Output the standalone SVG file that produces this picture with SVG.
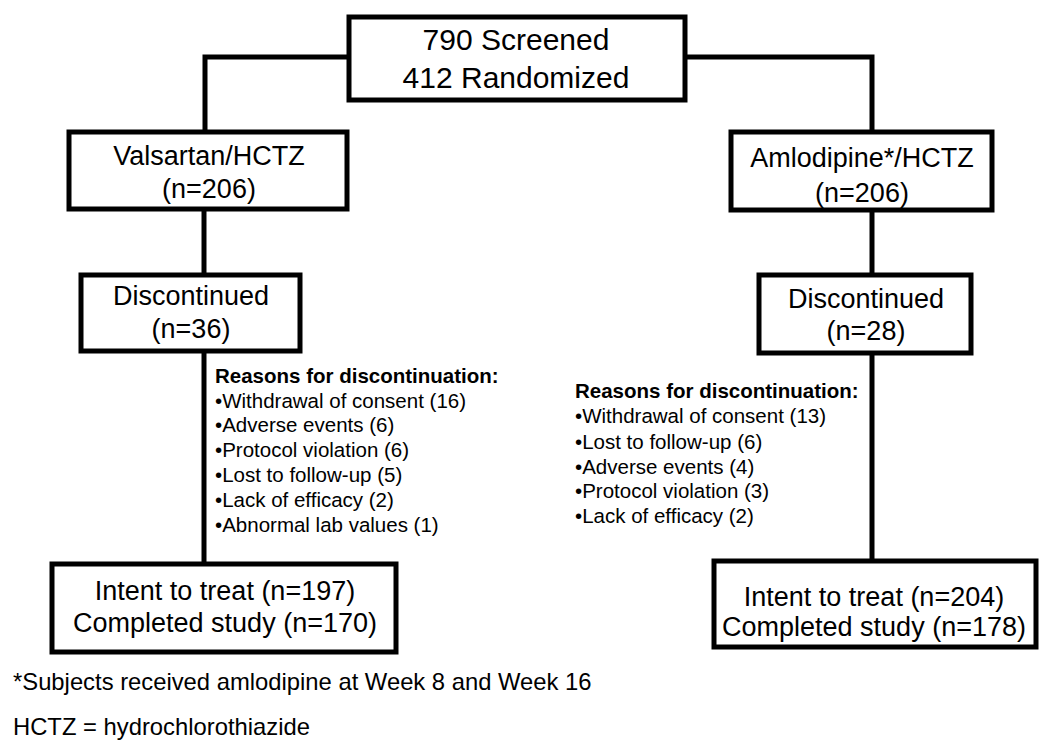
<svg xmlns="http://www.w3.org/2000/svg" width="1050" height="753" viewBox="0 0 1050 753">
<style>
.box{fill:#fff;stroke:#000;stroke-width:5}
.con{fill:none;stroke:#000;stroke-width:5}
text{font-family:"Liberation Sans",Arial,sans-serif;fill:#000}
.t30{font-size:30px;text-anchor:middle}
.t27{font-size:27px;text-anchor:middle}
.r{font-size:20.5px}
.rb{font-size:20.5px;font-weight:bold}
.fn{font-size:23.8px}
</style>
<rect width="1050" height="753" fill="#fff"/>
<g id="connectors">
<path class="con" d="M347,57 H205 V130"/>
<path class="con" d="M686,57 H872 V130"/>
<path class="con" d="M204,209 V273"/>
<path class="con" d="M204,351 V564"/>
<path class="con" d="M872,210 V273"/>
<path class="con" d="M872,353 V561"/>
</g>
<g id="top">
<rect class="box" x="349" y="17" width="336" height="83"/>
<text class="t30" x="516" y="50">790 Screened</text>
<text class="t30" x="516" y="88">412 Randomized</text>
</g>
<g id="valsartan">
<rect class="box" x="69" y="132" width="278" height="77"/>
<text class="t27" x="209" y="165">Valsartan/HCTZ</text>
<text class="t27" x="209" y="198">(n=206)</text>
</g>
<g id="amlodipine">
<rect class="box" x="731" y="132" width="261" height="78"/>
<text class="t27" x="862" y="167">Amlodipine*/HCTZ</text>
<text class="t27" x="862" y="202">(n=206)</text>
</g>
<g id="disc-left">
<rect class="box" x="81" y="275" width="219" height="76"/>
<text class="t27" x="191" y="305">Discontinued</text>
<text class="t27" x="191" y="338">(n=36)</text>
</g>
<g id="disc-right">
<rect class="box" x="759" y="275" width="212" height="78"/>
<text class="t27" x="866" y="308">Discontinued</text>
<text class="t27" x="866" y="340">(n=28)</text>
</g>
<g id="reasons-left">
<text class="rb" x="215" y="383">Reasons for discontinuation:</text>
<text class="r" x="215" y="408">•Withdrawal of consent (16)</text>
<text class="r" x="215" y="432">•Adverse events (6)</text>
<text class="r" x="215" y="457">•Protocol violation (6)</text>
<text class="r" x="215" y="482">•Lost to follow-up (5)</text>
<text class="r" x="215" y="507">•Lack of efficacy (2)</text>
<text class="r" x="215" y="532">•Abnormal lab values (1)</text>
</g>
<g id="reasons-right">
<text class="rb" x="575" y="398">Reasons for discontinuation:</text>
<text class="r" x="575" y="423">•Withdrawal of consent (13)</text>
<text class="r" x="575" y="449">•Lost to follow-up (6)</text>
<text class="r" x="575" y="474">•Adverse events (4)</text>
<text class="r" x="575" y="498">•Protocol violation (3)</text>
<text class="r" x="575" y="523">•Lack of efficacy (2)</text>
</g>
<g id="itt-left">
<rect class="box" x="52" y="564" width="344" height="88"/>
<text class="t27" x="225" y="600">Intent to treat (n=197)</text>
<text class="t27" x="225" y="632">Completed study (n=170)</text>
</g>
<g id="itt-right">
<rect class="box" x="714" y="561" width="322" height="86"/>
<text class="t27" x="874" y="606">Intent to treat (n=204)</text>
<text class="t27" x="874" y="636">Completed study (n=178)</text>
</g>
<g id="footnotes">
<text class="fn" x="13" y="690">*Subjects received amlodipine at Week 8 and Week 16</text>
<text class="fn" x="13" y="735">HCTZ = hydrochlorothiazide</text>
</g>
</svg>
